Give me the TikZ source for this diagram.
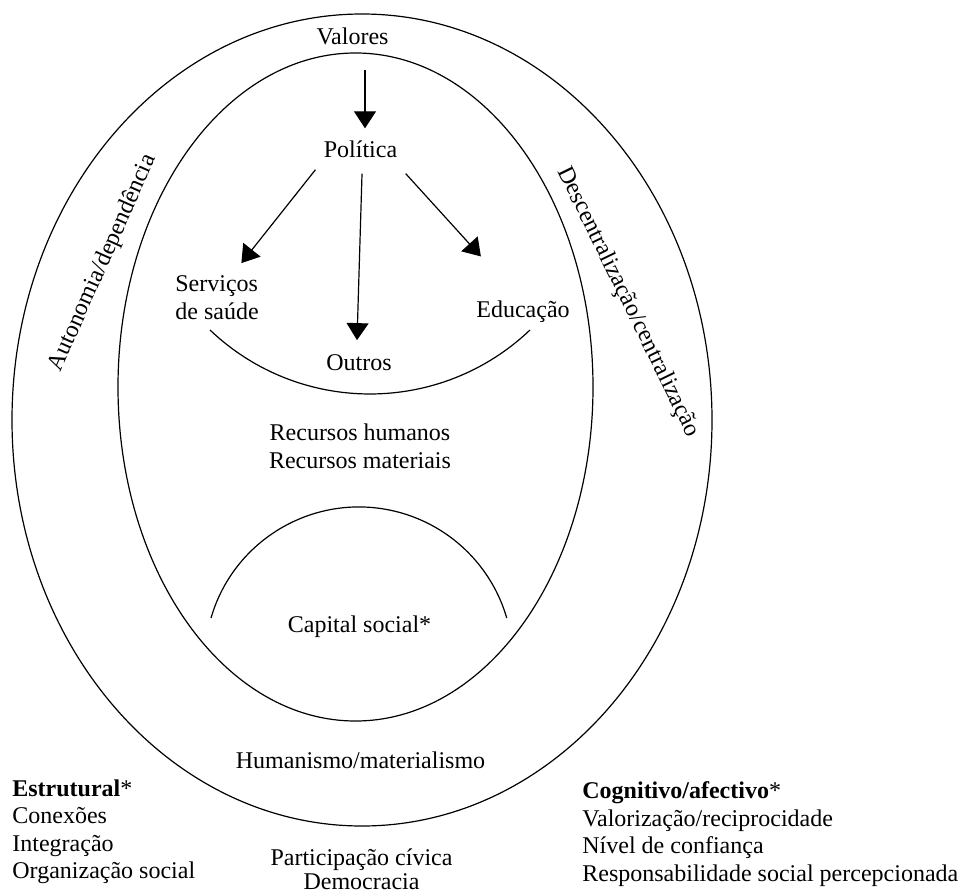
\documentclass[tikz,border=0pt]{standalone}
\usepackage{fontspec}
\setmainfont{Liberation Serif}
\usepackage{tikz}
\usetikzlibrary{arrows.meta}

\begin{document}
\begin{tikzpicture}[x=0.5pt, y=-0.5pt,
    arrow/.style={>={Triangle[length=8.5pt, width=11pt]}, semithick},
    lbl/.style={inner sep=0pt, font=\fontsize{12}{14}\selectfont}]
                \useasboundingbox (0,0) rectangle (964,894);
                \draw[semithick] (362,420) ellipse [x radius=350, y radius=406];
                \draw[semithick] (355.5,387) ellipse [x radius=237.5, y radius=334];
                \draw[semithick] (210,330) arc [start angle=133.6, end angle=46.4, radius=232];
                \draw[semithick] (211,618) arc [start angle=-163.8, end angle=-16.2, radius=154];
                \node[lbl, anchor=base] (val) at (352.5,44) {Valores};
                \node[lbl, anchor=base] (pol) at (360.5,157) {Política};
                \node[lbl, anchor=north west, align=left] (serv) at (175,275.6) {Serviços\\de saúde};
                \node[lbl, anchor=base] (out) at (359,370) {Outros};
                \node[lbl, anchor=base] (edu) at (523,317) {Educação};
                \node[lbl, anchor=north, align=center] (rec) at (360,423.6) {Recursos humanos\\Recursos materiais};
                \node[lbl, anchor=base] (cap) at (359.5,632) {Capital social*};
                \node[lbl, anchor=base] (hum) at (360.5,768) {Humanismo/materialismo};
                \node[lbl, rotate=66] (auto) at (103,263) {Autonomia/dependência};
                \node[lbl, rotate=-64] (desc) at (628,302) {Descentralização/centralização};
                \node[lbl, font=\fontsize{12}{13.75}\selectfont, anchor=north west, align=left] (estr) at (12,779)
                    {\textbf{Estrutural}*\\Conexões\\Integração\\Organização social};
                \node[lbl, font=\fontsize{12}{11.7}\selectfont, anchor=north, align=center] (part) at (361.5,848.6)
                    {Participação cívica\\Democracia};
                \node[lbl, font=\fontsize{12}{13.75}\selectfont, anchor=north west, align=left] (cogn) at (582,781.5)
                    {\textbf{Cognitivo/afectivo}*\\Valorização/reciprocidade\\Nível de confiança\\Responsabilidade social percepcionada};
                \draw[->, arrow, shorten <=12.5pt, shorten >=5.8pt] ([xshift=6.25pt]val.south) -- ([xshift=2.25pt]pol.north);
                \draw[->, arrow, shorten <=7.7pt, shorten >=8pt] ([xshift=0.8pt]pol.south west) -- ([xshift=7.2pt]serv.north);
                \draw[->, arrow, shorten <=8pt, shorten >=6.8pt] ([xshift=1pt]pol.south) -- ([xshift=-1.2pt]out.north);
                \draw[->, arrow, shorten <=10.8pt, shorten >=29.4pt] ([xshift=-3.2pt]pol.south east) -- ([xshift=-1.3pt]edu.north);
\end{tikzpicture}
\end{document}
